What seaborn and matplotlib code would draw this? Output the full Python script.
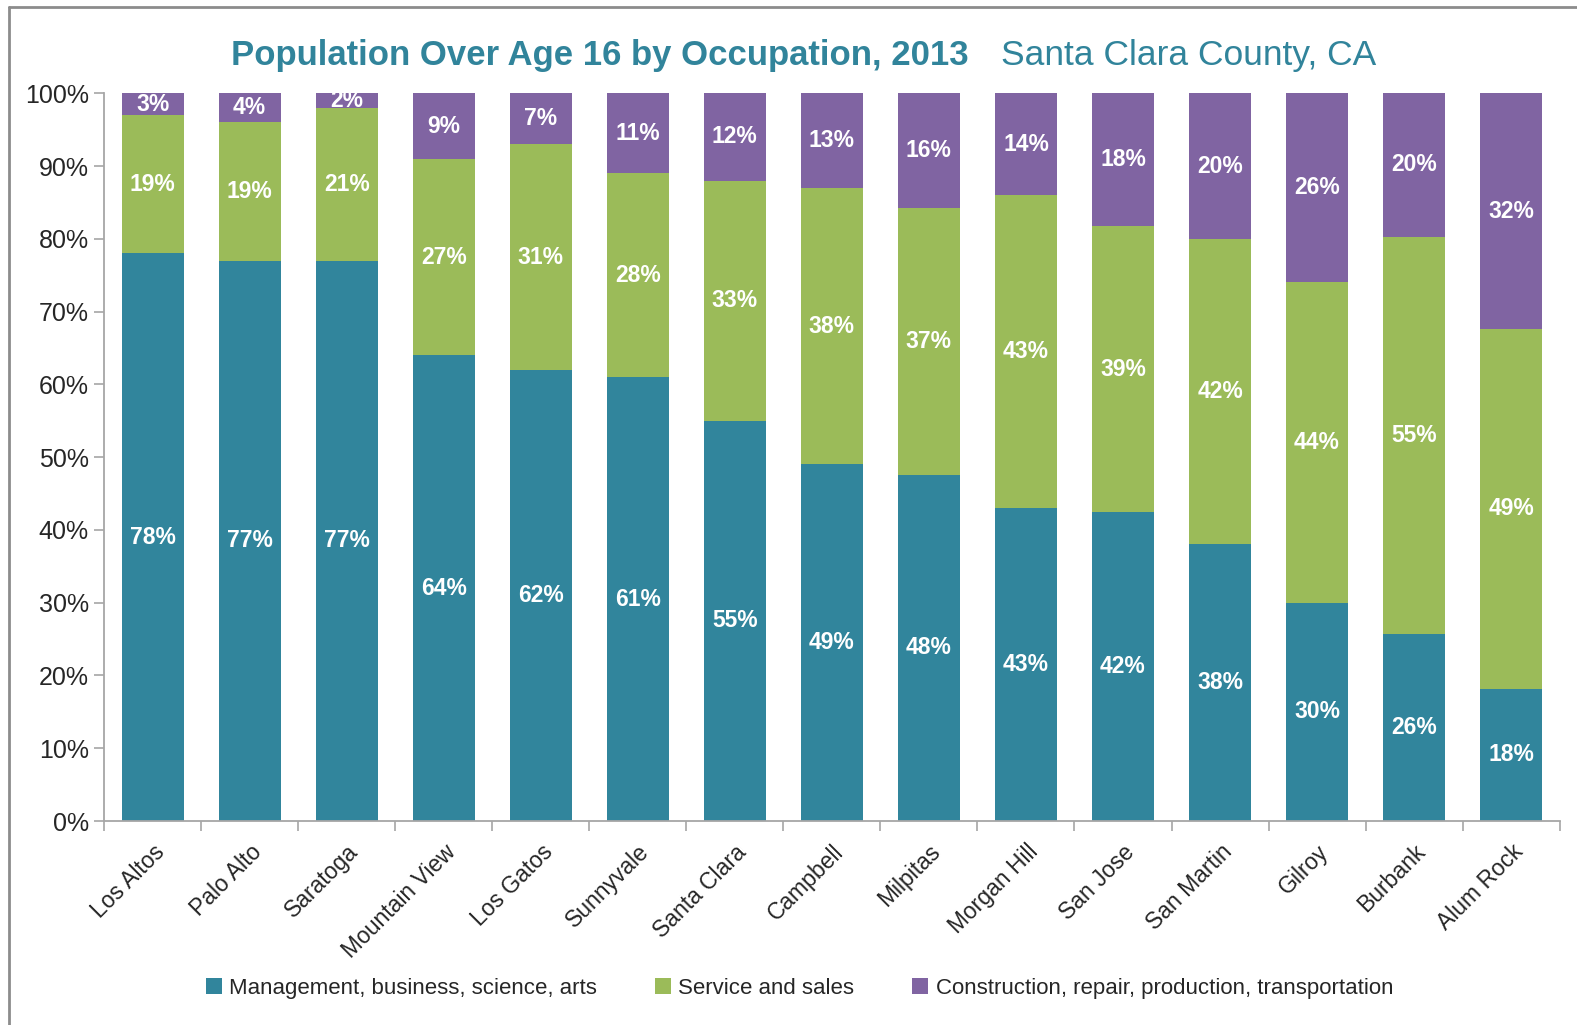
import numpy as np
import pandas as pd
import matplotlib
matplotlib.use("Agg")
import matplotlib.pyplot as plt
from matplotlib.lines import Line2D
from matplotlib.patches import Patch
import seaborn as sns

cities = ["Los Altos", "Palo Alto", "Saratoga", "Mountain View", "Los Gatos",
          "Sunnyvale", "Santa Clara", "Campbell", "Milpitas", "Morgan Hill",
          "San Jose", "San Martin", "Gilroy", "Burbank", "Alum Rock"]
management = [78, 77, 77, 64, 62, 61, 55, 49, 47.6, 43, 42.4, 38, 30, 25.7, 18.2]
service = [19, 19, 21, 27, 31, 28, 33, 38, 36.6, 43, 39.4, 42, 44, 54.6, 49.4]
construction = [3, 4, 2, 9, 7, 11, 12, 13, 15.8, 14, 18.2, 20, 26, 19.7, 32.4]
series_names = ["Management, business, science, arts", "Service and sales",
                "Construction, repair, production, transportation"]
colors = ["#31859C", "#9BBB59", "#8064A2"]
y_ticks = [0, 10, 20, 30, 40, 50, 60, 70, 80, 90, 100]

sns.set_theme(style="white")
plt.rcParams["font.family"] = ["Liberation Sans", "DejaVu Sans"]

df = pd.DataFrame({"city": cities, "m": management, "s": service, "c": construction})
df["ms"] = df["m"] + df["s"]
df["total"] = df["ms"] + df["c"]

fig = plt.figure(figsize=(15.77, 10.25), dpi=100)
ax = fig.add_axes([0.066, 0.199, 0.923, 0.710])

bw = 0.64
sns.barplot(data=df, x="city", y="total", color=colors[2], width=bw, ax=ax,
            saturation=1, linewidth=0)
sns.barplot(data=df, x="city", y="ms", color=colors[1], width=bw, ax=ax,
            saturation=1, linewidth=0)
sns.barplot(data=df, x="city", y="m", color=colors[0], width=bw, ax=ax,
            saturation=1, linewidth=0)

# segment labels
for i, row in df.iterrows():
    segs = [(0, row["m"]), (row["m"], row["ms"]), (row["ms"], row["total"])]
    for (lo, hi) in segs:
        ax.text(i, (lo + hi) / 2, f"{round(hi - lo):d}%", ha="center", va="center",
                color="white", fontsize=16.5, fontweight="bold")

n = len(cities)
ax.set_xlim(-0.5, n - 0.5)
ax.set_ylim(0, 100)
ax.set_yticks(y_ticks)
ax.set_yticklabels([f"{v}%" for v in y_ticks], fontsize=18)
ax.set_xticks(range(n))
ax.set_xticklabels(cities, rotation=45, ha="right", rotation_mode="anchor", fontsize=16.5)
ax.set_xticks(np.arange(-0.5, n, 1.0), minor=True)
ax.tick_params(axis="x", which="major", length=0, pad=14)
ax.tick_params(axis="x", which="minor", length=7, width=1.2, color="#A6A6A6", direction="out", bottom=True)
ax.tick_params(axis="y", length=7, width=1.2, color="#A6A6A6", direction="out", left=True, pad=4)
ax.set_xlabel("")
ax.set_ylabel("")
for side in ["top", "right"]:
    ax.spines[side].set_visible(False)
for side in ["left", "bottom"]:
    ax.spines[side].set_color("#A6A6A6")
    ax.spines[side].set_linewidth(1.3)

handles = [Patch(facecolor=c, edgecolor="none") for c in colors]
fig.legend(handles, series_names, loc="center", bbox_to_anchor=(0.507, 0.036), ncol=3,
           frameon=False, fontsize=16, handlelength=0.7, handleheight=0.7,
           handletextpad=0.35, columnspacing=2.6)

title_color = "#31849B"
fig.text(0.614, 0.946, "Population Over Age 16 by Occupation, 2013", ha="right", va="center",
         fontsize=25, fontweight="bold", color=title_color)
fig.text(0.635, 0.946, "Santa Clara County, CA", ha="left", va="center",
         fontsize=25.5, color=title_color)

fig.add_artist(Line2D([0.0055, 0.0055], [0, 0.993], transform=fig.transFigure, color="#8C8C8C", lw=2))
fig.add_artist(Line2D([0.0055, 1.0], [0.993, 0.993], transform=fig.transFigure, color="#8C8C8C", lw=2))

fig.savefig("out.png", dpi=100)
